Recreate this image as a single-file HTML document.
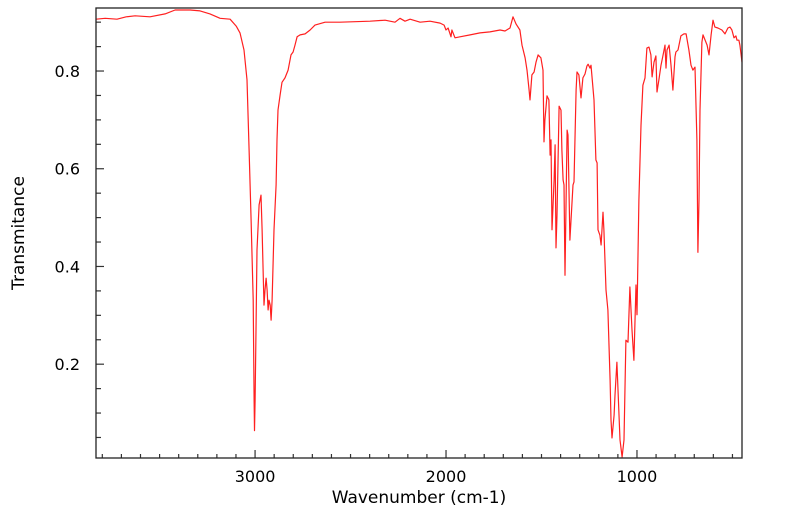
<!DOCTYPE html>
<html><head><meta charset="utf-8"><style>
html,body{margin:0;padding:0;background:#fff;}
svg{display:block;font-family:"DejaVu Sans","Liberation Sans",sans-serif;}
</style></head><body>
<svg id="chart" width="799" height="516">
<g id="ticks"></g>
<path id="line" fill="none" stroke="#ff2020" stroke-width="1.2" stroke-linejoin="round"/>
<rect x="96" y="8" width="646" height="450" fill="none" stroke="#222" stroke-width="1.3"/>
<text x="419" y="503" font-size="17" text-anchor="middle">Wavenumber (cm-1)</text>
<text transform="translate(24,233) rotate(-90)" font-size="17" text-anchor="middle">Transmitance</text>
</svg>
<script>
const wavenumbers=[3833,3785,3723,3675,3628,3550,3471,3419,3340,3288,3236,3183,3131,3099,3079,3058,3042,3031,3021,3010,3005,3003,3000,2995,2990,2979,2969,2963,2958,2953,2948,2942,2937,2932,2927,2921,2916,2911,2901,2890,2885,2880,2869,2859,2843,2827,2812,2801,2791,2780,2764,2738,2712,2686,2633,2555,2398,2319,2267,2241,2215,2188,2136,2084,2031,2010,2000,1989,1974,1969,1953,1927,1874,1822,1770,1717,1691,1665,1649,1633,1613,1602,1586,1576,1565,1560,1550,1539,1529,1518,1503,1492,1487,1482,1471,1461,1455,1450,1445,1434,1429,1424,1419,1408,1398,1393,1387,1382,1377,1366,1361,1351,1335,1330,1319,1314,1304,1293,1283,1272,1262,1256,1246,1241,1225,1215,1209,1204,1194,1188,1178,1173,1162,1152,1141,1136,1131,1120,1115,1105,1089,1078,1068,1058,1047,1037,1026,1016,1005,1000,990,979,969,958,948,937,927,921,911,901,895,885,874,864,853,848,843,832,822,812,801,796,785,770,754,743,728,717,707,696,686,681,675,670,660,654,633,623,612,602,592,576,555,539,524,513,503,492,482,476,466,461,450];
const transmittance=[0.906,0.908,0.906,0.911,0.913,0.911,0.917,0.925,0.925,0.923,0.917,0.908,0.906,0.892,0.878,0.843,0.782,0.638,0.495,0.331,0.126,0.064,0.126,0.270,0.434,0.526,0.546,0.475,0.393,0.321,0.352,0.376,0.352,0.311,0.331,0.321,0.290,0.331,0.475,0.567,0.659,0.720,0.751,0.777,0.786,0.802,0.833,0.839,0.853,0.870,0.874,0.876,0.884,0.894,0.900,0.900,0.902,0.904,0.900,0.908,0.902,0.906,0.900,0.902,0.898,0.894,0.884,0.888,0.870,0.884,0.868,0.870,0.874,0.878,0.880,0.884,0.882,0.888,0.911,0.896,0.884,0.853,0.827,0.802,0.761,0.741,0.792,0.798,0.818,0.833,0.827,0.802,0.655,0.700,0.749,0.741,0.628,0.659,0.475,0.577,0.649,0.438,0.505,0.728,0.720,0.638,0.577,0.567,0.382,0.679,0.669,0.454,0.567,0.573,0.761,0.798,0.792,0.745,0.786,0.794,0.810,0.814,0.806,0.812,0.741,0.618,0.612,0.475,0.464,0.444,0.511,0.475,0.352,0.311,0.167,0.086,0.049,0.096,0.137,0.204,0.045,0.010,0.045,0.249,0.245,0.358,0.270,0.208,0.362,0.301,0.536,0.689,0.771,0.786,0.847,0.849,0.833,0.788,0.818,0.831,0.757,0.782,0.812,0.831,0.853,0.806,0.843,0.853,0.812,0.761,0.829,0.839,0.843,0.872,0.876,0.876,0.843,0.812,0.802,0.808,0.659,0.429,0.536,0.720,0.859,0.874,0.853,0.833,0.874,0.904,0.890,0.888,0.884,0.876,0.888,0.890,0.884,0.868,0.872,0.863,0.863,0.853,0.818];
const xTickLabels=[3000,2000,1000];
const yTickLabels=[0.2,0.4,0.6,0.8];

const X0=96,X1=742,Y0=8,Y1=458;
const WMAX=3833,WMIN=450,TMIN=0.008,TMAX=0.929;
function xs(w){return X0+(WMAX-w)/(WMAX-WMIN)*(X1-X0);}
function ys(t){return Y1-(t-TMIN)/(TMAX-TMIN)*(Y1-Y0);}
const NS="http://www.w3.org/2000/svg";
let d="";
for(let i=0;i<wavenumbers.length;i++){d+=(i?"L":"M")+xs(wavenumbers[i]).toFixed(1)+" "+ys(transmittance[i]).toFixed(1);}
document.getElementById("line").setAttribute("d",d);
const g=document.getElementById("ticks");
function ln(x1,y1,x2,y2,name){const l=document.createElementNS(NS,"line");
l.setAttribute("x1",x1);l.setAttribute("y1",y1);l.setAttribute("x2",x2);l.setAttribute("y2",y2);
l.setAttribute("stroke","#333");l.setAttribute("stroke-width","1.2");


g.appendChild(l);}
function tx(x,y,s,anchor,name){const t=document.createElementNS(NS,"text");
t.setAttribute("x",x);t.setAttribute("y",y);t.setAttribute("font-size","16");t.setAttribute("text-anchor",anchor);t.textContent=s;


g.appendChild(t);}
for(let w=3800;w>=500;w-=100){const x=xs(w);const major=w%1000===0;ln(x,Y1,x,Y1-(major?8:4),"x-tick");}
xTickLabels.forEach(w=>tx(xs(w),482,String(w),"middle","x-tick-label"));
for(let k=1;k<=18;k++){const t=k*0.05;const y=ys(t);if(y<Y0)continue;const major=Math.abs(t*10-Math.round(t*10))<1e-6&&Math.round(t*10)%2===0;ln(X0,y,X0+(major?8:5),y,"y-tick");}
yTickLabels.forEach(t=>tx(80,ys(t)+6,t.toFixed(1),"end","y-tick-label"));
</script>
</body></html>
